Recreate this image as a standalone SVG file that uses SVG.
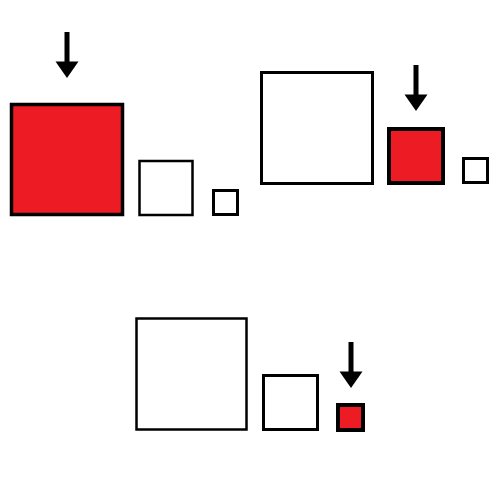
<svg xmlns="http://www.w3.org/2000/svg" xmlns:xlink="http://www.w3.org/1999/xlink" width="500" height="500" viewBox="0 0 500 500">
<style>
.sq{fill:#fff;stroke:#000;stroke-width:3}
.red{fill:#ed1c24;stroke:#000;stroke-width:3.5}
.arr{fill:#000}
</style>
<defs>
<g id="arrow"><rect x="-2.5" y="-46" width="5" height="31"/><polygon points="-11.5,-16.5 11.5,-16.5 0,0"/></g>
</defs>
<rect width="500" height="500" fill="#fff"/>
<g id="set1">
<rect class="red" x="11.5" y="104.5" width="111" height="110"/>
<rect class="sq" x="139.5" y="161" width="53" height="54" style="stroke-width:2.5"/>
<rect class="sq" x="213.5" y="190.5" width="24" height="24"/>
</g>
<g id="set2">
<rect class="sq" x="261.5" y="72.5" width="111" height="111"/>
<rect class="red" x="389" y="129" width="54" height="54" style="stroke-width:4"/>
<rect class="sq" x="463.5" y="158.5" width="24" height="24"/>
</g>
<g id="set3">
<rect class="sq" x="136.5" y="318.5" width="110" height="111" style="stroke-width:2.5"/>
<rect class="sq" x="263.5" y="375.5" width="54" height="54"/>
<rect class="red" x="338" y="405" width="25" height="25" style="stroke-width:4"/>
</g>
<g id="connectors" class="arr">
<use xlink:href="#arrow" transform="translate(67,78)"/>
<use xlink:href="#arrow" transform="translate(416,111)"/>
<use xlink:href="#arrow" transform="translate(351,388)"/>
</g>
</svg>
